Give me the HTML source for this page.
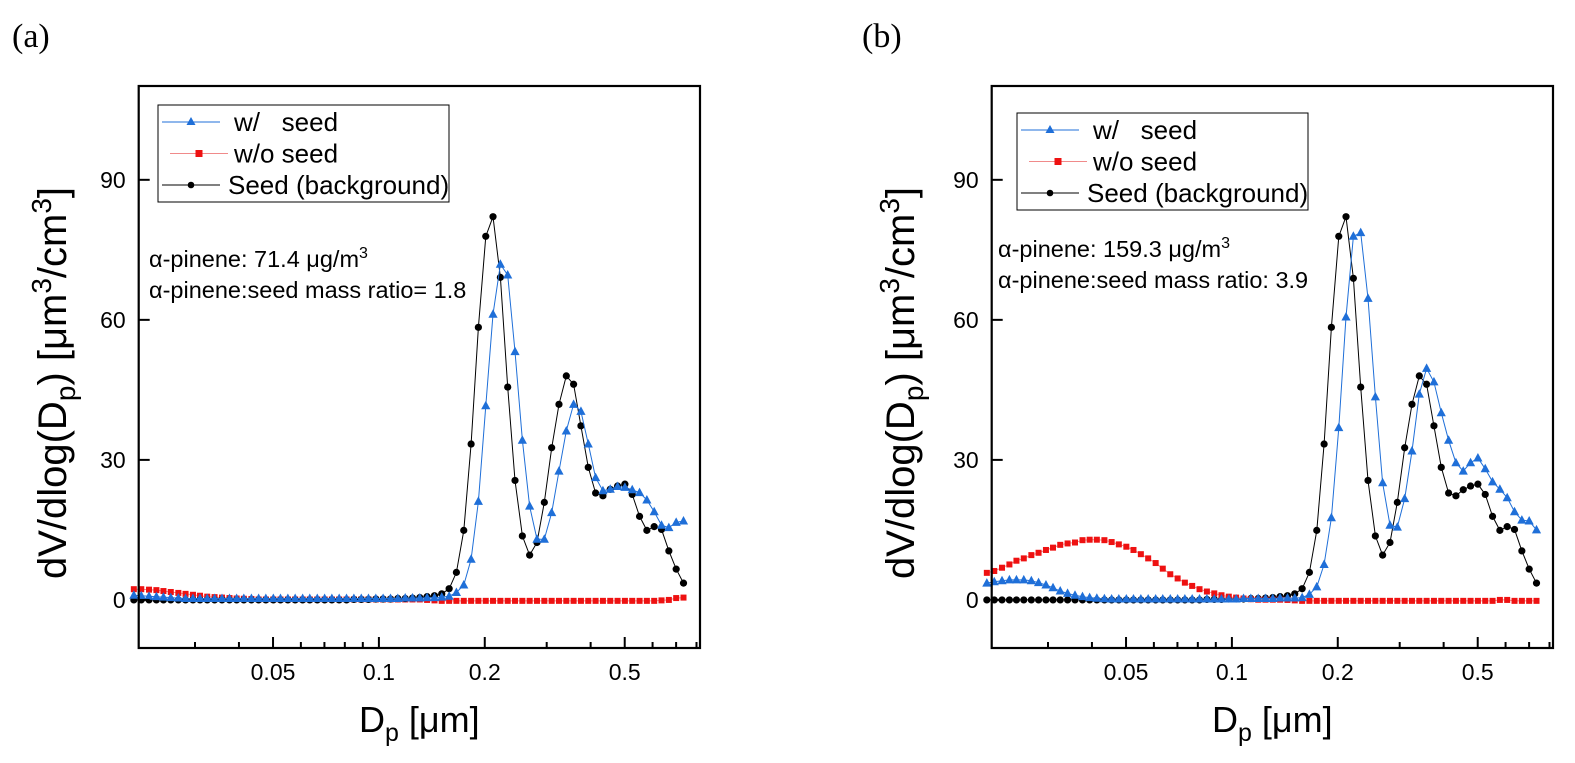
<!DOCTYPE html>
<html><head><meta charset="utf-8"><style>
html,body{margin:0;padding:0;background:#fff;}
svg{display:block;font-family:"Liberation Sans",Arial,sans-serif;}
</style></head><body>
<svg id="fig" width="1575" height="763" viewBox="0 0 1575 763" xmlns="http://www.w3.org/2000/svg"></svg>
<script>
// ---- data ----
const diameters = [0.0201,0.0211,0.0222,0.0233,0.0244,0.0256,0.0269,0.0282,0.0296,0.0310,0.0325,0.0341,0.0358,0.0376,0.0394,0.0413,0.0434,0.0455,0.0477,0.0501,0.0525,0.0551,0.0578,0.0607,0.0636,0.0668,0.0701,0.0735,0.0771,0.0809,0.0849,0.0891,0.0934,0.0980,0.1028,0.1079,0.1132,0.1188,0.1246,0.1307,0.1371,0.1439,0.1509,0.1584,0.1661,0.1743,0.1829,0.1918,0.2013,0.2111,0.2215,0.2324,0.2438,0.2558,0.2683,0.2815,0.2954,0.3099,0.3251,0.3411,0.3578,0.3754,0.3938,0.4132,0.4335,0.4548,0.4771,0.5006,0.5252,0.5510,0.5780,0.6064,0.6362,0.6675,0.7003,0.7347];
const seedA = [0,0,0,0,0,0,0,0,0,0,0,0,0,0,0,0,0,0,0,0,0,0,0,0,0,0,0,0,0,0,0.1,0.1,0.1,0.2,0.2,0.2,0.3,0.3,0.4,0.5,0.7,0.9,1.3,2.4,5.9,14.9,33.4,58.4,77.9,82.1,69.1,45.6,25.6,13.7,9.6,12.3,20.9,32.6,41.9,48,46.2,37.3,28.4,22.9,22.3,23.7,24.4,24.8,22.6,17.9,14.9,15.7,15.1,10.5,6.6,3.6];
const withSeedA = [1.0,0.9,0.8,0.7,0.6,0.5,0.4,0.3,0.3,0.3,0.3,0.3,0.3,0.3,0.3,0.3,0.3,0.3,0.3,0.3,0.3,0.3,0.3,0.3,0.3,0.3,0.3,0.3,0.3,0.3,0.3,0.3,0.3,0.3,0.3,0.3,0.3,0.4,0.4,0.4,0.5,0.5,0.6,0.8,1.6,3.2,8.7,21.1,41.6,61.2,71.9,69.6,53.2,34.2,20.1,13,13,18.7,27.6,36.2,41.9,40.4,33.4,26.2,23.4,23.7,24.3,24.1,23.6,23,21.4,18.9,16,15.5,16.6,16.9];
const withoutSeedA = [2.3,2.3,2.2,2.1,1.9,1.7,1.5,1.3,1.1,0.9,0.7,0.6,0.5,0.4,0.3,0.25,0.2,0.1,0.1,0.1,0.1,0.1,0.1,0.1,0.1,0.1,0.1,0.1,0.1,0.1,0.1,0.1,0.1,0.1,0.1,0.1,0.1,0.1,0.1,0.1,0,-0.1,-0.2,-0.2,-0.2,-0.2,-0.2,-0.2,-0.2,-0.2,-0.2,-0.2,-0.2,-0.2,-0.2,-0.2,-0.2,-0.2,-0.2,-0.2,-0.2,-0.2,-0.2,-0.2,-0.2,-0.2,-0.2,-0.2,-0.2,-0.2,-0.2,-0.2,-0.1,0.0,0.4,0.5];
const seedB = [0,0,0,0,0,0,0,0,0,0,0,0,0,0,0,0,0,0,0,0,0,0,0,0,0,0,0,0,0,0,0.1,0.1,0.1,0.2,0.2,0.2,0.3,0.3,0.4,0.5,0.7,0.9,1.3,2.4,5.9,14.9,33.4,58.4,77.9,82.1,68.9,45.6,25.6,13.7,9.6,12.3,20.9,32.6,41.9,48,46.2,37.3,28.4,22.9,22.3,23.6,24.4,24.8,22.6,17.9,14.9,15.7,15.1,10.5,6.6,3.6];
const withSeedB = [3.6,3.9,4.1,4.3,4.3,4.3,4.1,3.7,3.2,2.6,1.9,1.4,1.0,0.7,0.5,0.35,0.25,0.2,0.2,0.2,0.2,0.2,0.2,0.2,0.2,0.2,0.2,0.2,0.2,0.2,0.2,0.2,0.2,0.2,0.2,0.3,0.3,0.3,0.3,0.3,0.4,0.4,0.4,0.5,1.2,2.8,7.6,17.6,36.9,60.6,77.9,78.7,64.6,43.5,25.1,16,15.6,21.7,31.9,44.1,49.6,46.7,40.1,34.2,29.4,27.6,29.4,30.4,28.1,25.3,23.7,21.9,18.9,17.1,16.9,15];
const withoutSeedB = [5.8,6.2,6.9,7.6,8.4,8.9,9.6,10.1,10.7,11.2,11.8,12.1,12.3,12.8,12.9,12.9,12.8,12.4,11.9,11.4,10.7,9.8,8.9,7.9,6.7,5.5,4.6,3.7,3.0,2.3,1.8,1.4,1.0,0.7,0.5,0.3,0.15,0.05,0.05,0.05,0.05,0,-0.1,-0.2,-0.2,-0.2,-0.2,-0.2,-0.2,-0.2,-0.2,-0.2,-0.2,-0.2,-0.2,-0.2,-0.2,-0.2,-0.2,-0.2,-0.2,-0.2,-0.2,-0.2,-0.2,-0.2,-0.2,-0.2,-0.2,-0.2,0.0,0.0,-0.2,-0.2,-0.2,-0.2];
const yTicks = [0,30,60,90];
const xMajorTicks = [0.05,0.1,0.2,0.5];
const xMajorLabels = ["0.05","0.1","0.2","0.5"];
const xMinorTicks = [0.03,0.04,0.06,0.07,0.08,0.09,0.3,0.4,0.6,0.7,0.8];
const xDomain = [0.02075,0.8185];
const yDomain = [-10.3,110.1];

const NS = "http://www.w3.org/2000/svg";
const svg = document.getElementById('fig');
function el(tag, attrs, parent, text){
  const e = document.createElementNS(NS, tag);
  for (const k in attrs) e.setAttribute(k, attrs[k]);
  if (text !== undefined) e.textContent = text;
  (parent || svg).appendChild(e);
  return e;
}
const BLUE = "#1f6fd8", RED = "#ee1111", PINK = "#f08a8a";

function panel(cfg){
  const g = el('g', {});
  
  
  const L = cfg.left, R = cfg.right, T = 86, B = 648;
  const lx0 = Math.log10(xDomain[0]), lx1 = Math.log10(xDomain[1]);
  const sx = d => L + (Math.log10(d) - lx0) / (lx1 - lx0) * (R - L);
  const sy = v => B - (v - yDomain[0]) / (yDomain[1] - yDomain[0]) * (B - T);

  const t = el('text', {x: cfg.letterX, y: 47, 'font-family': '"Liberation Serif",serif', 'font-size': 34}, g, cfg.letter);
  
  

  const series = [
    {vals: cfg.seed, color: '#000', mk: 'circle', name: 'seed-background-series'},
    {vals: cfg.without, color: RED, line: PINK, mk: 'square', name: 'without-seed-series'},
    {vals: cfg.withs, color: BLUE, mk: 'tri', name: 'with-seed-series'}
  ];
  cfg.order.forEach(idx => {
    const s = series[idx];
    const sg = el('g', {}, g);
    
    
    const pts = s.vals.map((v,i) => sx(diameters[i]).toFixed(1) + ',' + sy(v).toFixed(1)).join(' ');
    const pl = el('polyline', {points: pts, fill: 'none', stroke: s.line || s.color, 'stroke-width': 1}, sg);
    
    
    s.vals.forEach((v,i) => {
      const x = sx(diameters[i]), y = sy(v);
      let m;
      if (s.mk === 'circle') m = el('circle', {cx: x, cy: y, r: 3.6, fill: s.color}, sg);
      else if (s.mk === 'square') m = el('rect', {x: x-3, y: y-3, width: 6, height: 6, fill: s.color}, sg);
      else m = el('polygon', {points: `${x},${y-5} ${x-4.6},${y+3.5} ${x+4.6},${y+3.5}`, fill: s.color}, sg);
      
      
    });
  });

  const fr = el('rect', {x: L, y: T, width: R-L, height: B-T, fill: 'none', stroke: '#000', 'stroke-width': 2.2}, g);
  
  

  yTicks.forEach(v => {
    const y = sy(v);
    const tk = el('line', {x1: L, x2: L+11, y1: y, y2: y, stroke: '#000', 'stroke-width': 2}, g);
    
    
    const lb = el('text', {x: L-13, y: y+8, 'text-anchor': 'end', 'font-size': 23}, g, String(v));
    
    
  });
  xMajorTicks.forEach((d,i) => {
    const x = sx(d);
    const tk = el('line', {x1: x, x2: x, y1: B, y2: B-11, stroke: '#000', 'stroke-width': 2}, g);
    
    
    const lb = el('text', {x: x, y: 680, 'text-anchor': 'middle', 'font-size': 23}, g, xMajorLabels[i]);
    
    
  });
  xMinorTicks.forEach(d => {
    const x = sx(d);
    const tk = el('line', {x1: x, x2: x, y1: B, y2: B-6, stroke: '#000', 'stroke-width': 2}, g);
    
    
  });

  const xt = el('text', {x: (L+R)/2, y: 732, 'text-anchor': 'middle', 'font-size': 36}, g);
  
  
  xt.innerHTML = 'D<tspan font-size="25" dy="9">p</tspan><tspan dy="-9"> [\u03BCm]</tspan>';

  const yt = el('text', {transform: `translate(${cfg.ylabX},${(T+B)/2 + 16}) rotate(-90)`, 'text-anchor': 'middle', 'font-size': 40}, g);
  
  
  yt.innerHTML = 'dV/dlog(D<tspan font-size="28" dy="9">p</tspan><tspan dy="-9">) [\u03BCm</tspan><tspan font-size="28" dy="-15">3</tspan><tspan dy="15">/cm</tspan><tspan font-size="28" dy="-15">3</tspan><tspan dy="15">]</tspan>';

  const lg = el('g', {}, g);
  
  
  const lb = cfg.legend;
  el('rect', {x: lb.x, y: lb.y, width: lb.w, height: 97, fill: '#fff', stroke: '#000', 'stroke-width': 1}, lg);
  const rows = [
    {txt: 'w/\u00A0\u00A0\u00A0seed', c: BLUE, lc: BLUE, mk: 'tri', off: 0, tx: 76, name: 'legend-entry-with-seed'},
    {txt: 'w/o seed', c: RED, lc: PINK, mk: 'square', off: 8, tx: 76, name: 'legend-entry-without-seed'},
    {txt: 'Seed (background)', c: '#000', lc: '#000', mk: 'circle', off: 0, tx: 70, name: 'legend-entry-seed-background'}
  ];
  rows.forEach((r,i) => {
    const rg = el('g', {}, lg);
    
    
    const y = lb.y + 17 + i*31.5;
    const x0 = lb.x + 4 + r.off;
    el('line', {x1: x0, x2: x0+58, y1: y, y2: y, stroke: r.lc, 'stroke-width': 1}, rg);
    const mx = x0 + 29;
    if (r.mk === 'tri') el('polygon', {points: `${mx},${y-5} ${mx-4.5},${y+3} ${mx+4.5},${y+3}`, fill: r.c}, rg);
    else if (r.mk === 'square') el('rect', {x: mx-3.5, y: y-3.5, width: 7, height: 7, fill: r.c}, rg);
    else el('circle', {cx: mx, cy: y, r: 3.3, fill: r.c}, rg);
    el('text', {x: lb.x + r.tx, y: y+9, 'font-size': 26}, rg, r.txt);
  });

  const a1 = el('text', {x: cfg.annX, y: cfg.annY, 'font-size': 23.5}, g);
  
  
  a1.innerHTML = '\u03B1-pinene: ' + cfg.conc + ' \u03BCg/m<tspan font-size="16" dy="-9">3</tspan>';
  const a2 = el('text', {x: cfg.annX, y: cfg.annY + 31, 'font-size': 23.5}, g, cfg.ratio);
  
  
}

panel({name: 'panel-a', letter: '(a)', letterX: 12, left: 138.7, right: 700, ylabX: 66,
  seed: seedA, withs: withSeedA, without: withoutSeedA, order: [1,0,2],
  legend: {x: 158, y: 105, w: 291}, annX: 149, annY: 267, conc: '71.4',
  ratio: '\u03B1-pinene:seed mass ratio= 1.8'});
panel({name: 'panel-b', letter: '(b)', letterX: 862, left: 991.7, right: 1553, ylabX: 914,
  seed: seedB, withs: withSeedB, without: withoutSeedB, order: [0,1,2],
  legend: {x: 1017, y: 113, w: 291}, annX: 998, annY: 257, conc: '159.3',
  ratio: '\u03B1-pinene:seed mass ratio: 3.9'});
</script>
</body></html>
